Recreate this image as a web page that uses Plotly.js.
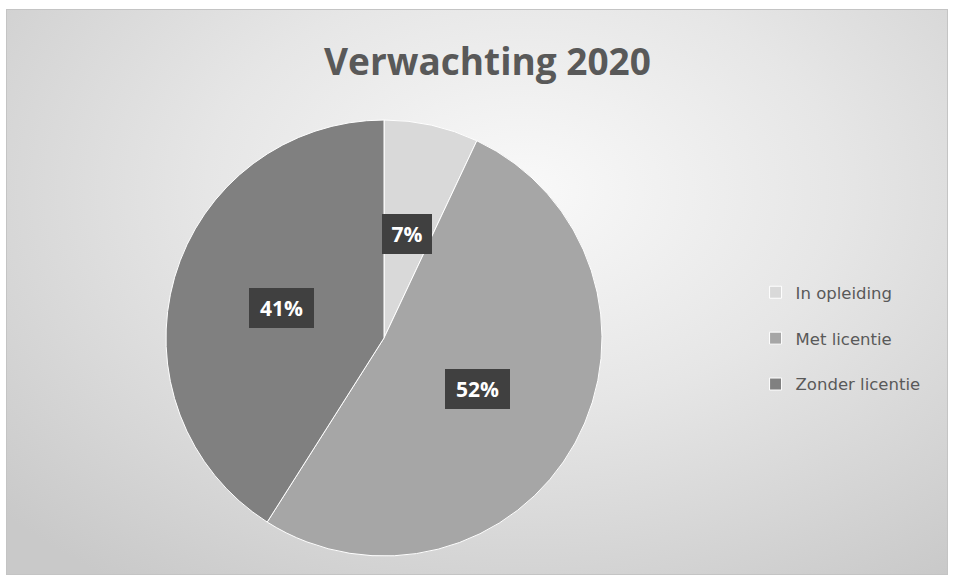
<!DOCTYPE html>
<html>
<head>
<meta charset="utf-8">
<script src="https://cdn.plot.ly/plotly-3.0.1.min.js"></script>
<style>
  html, body { margin: 0; padding: 0; background: #ffffff; }
  #wrap { position: relative; width: 954px; height: 578px; overflow: hidden; }
  #bg { position: absolute; left: 6px; top: 9px; width: 940px; height: 564px;
        border: 1px solid #c4c4c4;
        background: radial-gradient(ellipse 75% 85% at 55% 32%, #f9f9f9 0%, #e6e6e6 45%, #c9c9c9 100%); }
  #chart { position: absolute; left: 0; top: 0; width: 954px; height: 578px; }
</style>
</head>
<body>
<div id="wrap"><div id="bg"></div><div id="chart"></div></div>
<script>
const categories = ["In opleiding", "Met licentie", "Zonder licentie"];
const values = [7, 52, 41];
const sliceColors = ["#d9d9d9", "#a6a6a6", "#808080"];

const W = 954, H = 578;
const cx = 384, cy = 338, R = 218;
const dom = {
  x: [(cx - R) / W, (cx + R) / W],
  y: [(H - cy - R) / H, (H - cy + R) / H]
};

// label annotations placed from the data (slice mid-angles)
const total = values.reduce((a, b) => a + b, 0);
let cum = 0;
const annotations = values.map((v, i) => {
  const mid = (cum + v / 2) / total * 2 * Math.PI;
  cum += v;
  const r = 0.49 * R;
  const px = cx + r * Math.sin(mid);
  const py = cy - r * Math.cos(mid);
  const txt = Math.round(v / total * 100) + "%";
  return {
    x: px / W, y: 1 - py / H, xref: "paper", yref: "paper",
    xanchor: "center", yanchor: "middle",
    text: txt, showarrow: false,
    width: 15 * txt.length + 10, height: 30,
    font: { family: "Open Sans, sans-serif", size: 21, color: "#ffffff", weight: 700 },
    bgcolor: "#404040", borderpad: 5, borderwidth: 0
  };
});

// legend labels get a trailing blank line to reproduce the wide item spacing
const legendLabels = categories.map(c => c + "<br> ");

const data = [{
  type: "pie",
  labels: legendLabels,
  values: values,
  sort: false,
  direction: "clockwise",
  rotation: 0,
  marker: { colors: sliceColors, line: { color: "#ffffff", width: 1 } },
  textinfo: "none",
  hoverinfo: "percent",
  domain: dom
}];

const layout = {
  width: W, height: H,
  margin: { l: 0, r: 0, t: 0, b: 0 },
  paper_bgcolor: "rgba(0,0,0,0)",
  plot_bgcolor: "rgba(0,0,0,0)",
  title: {
    text: "Verwachting 2020",
    x: 0.511, xanchor: "center",
    y: 1 - 62 / H, yanchor: "middle",
    font: { family: "Open Sans, sans-serif", size: 37, color: "#595959", weight: 700 }
  },
  showlegend: true,
  legend: {
    x: 0.792, xanchor: "left",
    y: 1 - 349 / H, yanchor: "middle",
    valign: "top",
    font: { family: "DejaVu Sans, sans-serif", size: 16.5, color: "#595959" },
    bgcolor: "rgba(0,0,0,0)",
    traceorder: "normal"
  },
  annotations: annotations
};

Plotly.newPlot("chart", data, layout, { displayModeBar: false, staticPlot: true });
</script>
</body>
</html>
